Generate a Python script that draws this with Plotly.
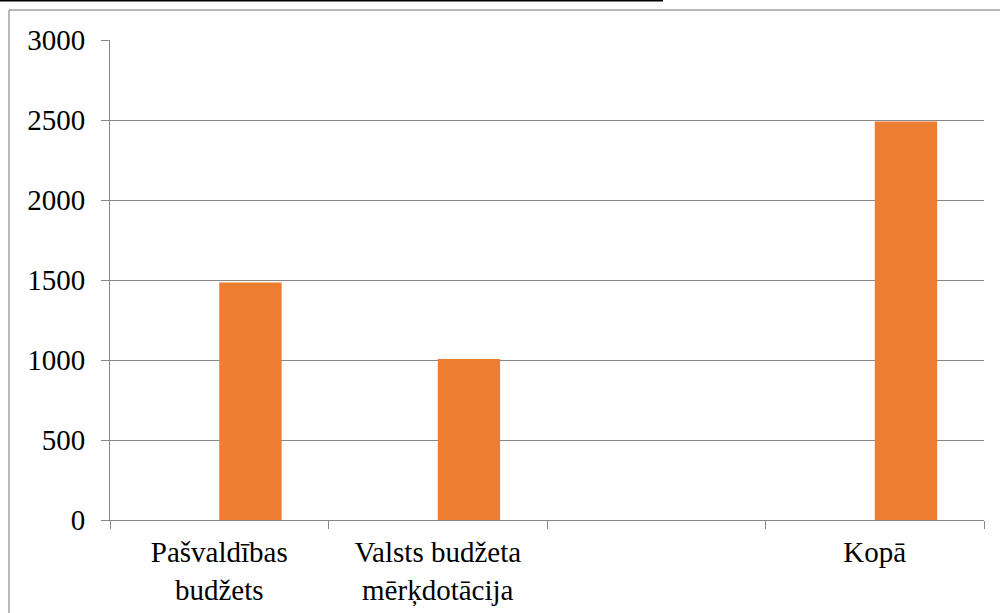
import plotly.graph_objects as go

categories = ["Pašvaldības<br>budžets", "Valsts budžeta<br>mērķdotācija", " ", "Kopā"]
series_empty = [None, None, None, None]
series_values = [1485, 1007, None, 2490]
y_ticks = [0, 500, 1000, 1500, 2000, 2500, 3000]

W, H = 1000, 613
ML, MR, MT, MB = 110, 16, 40, 93
PW, PH = W - ML - MR, H - MT - MB

def px_x(x):
    return (x - ML) / PW

def px_y(y):
    return (H - MB - y) / PH

fig = go.Figure()
fig.add_trace(go.Bar(x=categories, y=series_empty, marker_color="#4472C4", showlegend=False))
fig.add_trace(go.Bar(x=categories, y=series_values, marker_color="#ED7D31",
                     marker_line_width=0, showlegend=False))

grid = "#888888"
fig.update_layout(
    width=W, height=H,
    margin=dict(l=ML, r=MR, t=MT, b=MB),
    paper_bgcolor="white", plot_bgcolor="white",
    barmode="group", bargap=0.429, bargroupgap=0,
    font=dict(family="Liberation Serif, Times New Roman, serif", size=29, color="black"),
    xaxis=dict(
        type="category", showline=True, linecolor=grid, linewidth=1,
        ticks="outside", tickson="boundaries", ticklen=8, tickcolor=grid,
        showgrid=False, tickfont=dict(size=29), ticklabelstandoff=6, automargin=False,
    ),
    yaxis=dict(
        range=[0, 3000], tickvals=y_ticks, showline=True, linecolor=grid, linewidth=1,
        ticks="outside", ticklen=8, tickcolor=grid, showgrid=True, gridcolor=grid,
        gridwidth=1, zeroline=False, tickfont=dict(size=29), ticklabelstandoff=10,
        automargin=False,
    ),
    shapes=[
        dict(type="line", xref="paper", yref="paper", x0=px_x(9), x1=px_x(1010),
             y0=px_y(10), y1=px_y(10), line=dict(color="#a0a0a0", width=1.5)),
        dict(type="line", xref="paper", yref="paper", x0=px_x(9), x1=px_x(9),
             y0=px_y(10), y1=px_y(620), line=dict(color="#a0a0a0", width=1.5)),
        dict(type="line", xref="paper", yref="paper", x0=px_x(0), x1=px_x(663),
             y0=px_y(0.5), y1=px_y(0.5), line=dict(color="black", width=2)),
    ],
)

fig.write_html(
    "out.html",
    config={"displayModeBar": False},
    post_script="document.body.style.margin='0';document.body.style.overflow='hidden';",
)
